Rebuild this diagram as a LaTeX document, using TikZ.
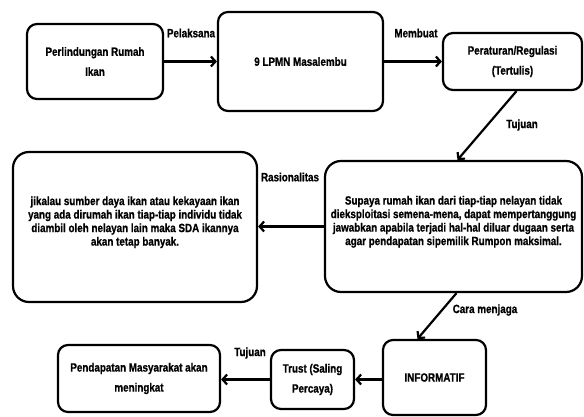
\documentclass[tikz,border=0pt]{standalone}
\usepackage{fontspec}
\setmainfont{Liberation Sans}[FakeStretch=0.82,BoldFeatures={FakeBold=0.8}]
\usetikzlibrary{arrows.meta,calc}
\begin{document}
\begin{tikzpicture}[x=1pt,y=-1pt,
  box/.style={draw=black,line width=2.2pt,rounded corners=10pt,fill=white,align=center,inner sep=0pt,
    font=\bfseries\fontsize{12}{20}\selectfont},
  bigbox/.style={box,rounded corners=16pt,text depth=12pt,font=\bfseries\fontsize{12}{13.5}\selectfont},
  conn/.style={line width=2.2pt,-{Straight Barb[length=4.5pt,width=10pt]}},
  lbl/.style={font=\bfseries\fontsize{12}{14}\selectfont,inner sep=0pt}]
\useasboundingbox (0,0) rectangle (584,417);
\node[box,minimum width=136pt,minimum height=75pt] (b1) at (95,61.5) {Perlindungan Rumah\\Ikan};
\node[box,minimum width=165pt,minimum height=99pt] (b2) at (300.5,61.5) {9 LPMN Masalembu};
\node[box,minimum width=139pt,minimum height=57pt] (b3) at (512.5,61.5) {Peraturan/Regulasi\\(Tertulis)};
\node[bigbox,minimum width=257pt,minimum height=131pt] (b4) at (453.5,226.5) {Supaya rumah ikan dari tiap-tiap nelayan tidak\\dieksploitasi semena-mena, dapat mempertanggung\\jawabkan apabila terjadi hal-hal diluar dugaan serta\\agar pendapatan sipemilik Rumpon maksimal.};
\node[bigbox,minimum width=244pt,minimum height=150pt] (b5) at (135,227) {jikalau sumber daya ikan atau kekayaan ikan\\yang ada dirumah ikan tiap-tiap individu tidak\\diambil oleh nelayan lain maka SDA ikannya\\akan tetap banyak.};
\node[box,minimum width=103pt,minimum height=75pt] (b6) at (434.5,377.5) {INFORMATIF};
\node[box,minimum width=83pt,minimum height=59pt] (b7) at (312.5,379.5) {Trust (Saling\\Percaya)};
\node[box,minimum width=162pt,minimum height=67pt] (b8) at (139,378.5) {Pendapatan Masyarakat akan\\meningkat};
\draw[conn] (b1.east) -- (b2.west);
\draw[conn] (b2.east) -- (b3.west);
\draw[conn] ($(b3.south)+(4,0)$) -- ($(b4.north)+(4,0)$);
\draw[conn] (b4.west) -- (b5.east |- b4.west);
\draw[conn] ($(b4.south)+(3,0)$) -- ($(b6.north)+(-17,0)$);
\draw[conn] (b6.west |- b7.east) -- (b7.east);
\draw[conn] (b7.west) -- (b8.east |- b7.west);
\node[lbl] (l1) at (191,33) {Pelaksana};
\node[lbl] (l2) at (416,33) {Membuat};
\node[lbl] (l3) at (522,125) {Tujuan};
\node[lbl] (l4) at (290,177) {Rasionalitas};
\node[lbl] (l5) at (485,310) {Cara menjaga};
\node[lbl] (l6) at (250,353) {Tujuan};
\end{tikzpicture}
\end{document}
